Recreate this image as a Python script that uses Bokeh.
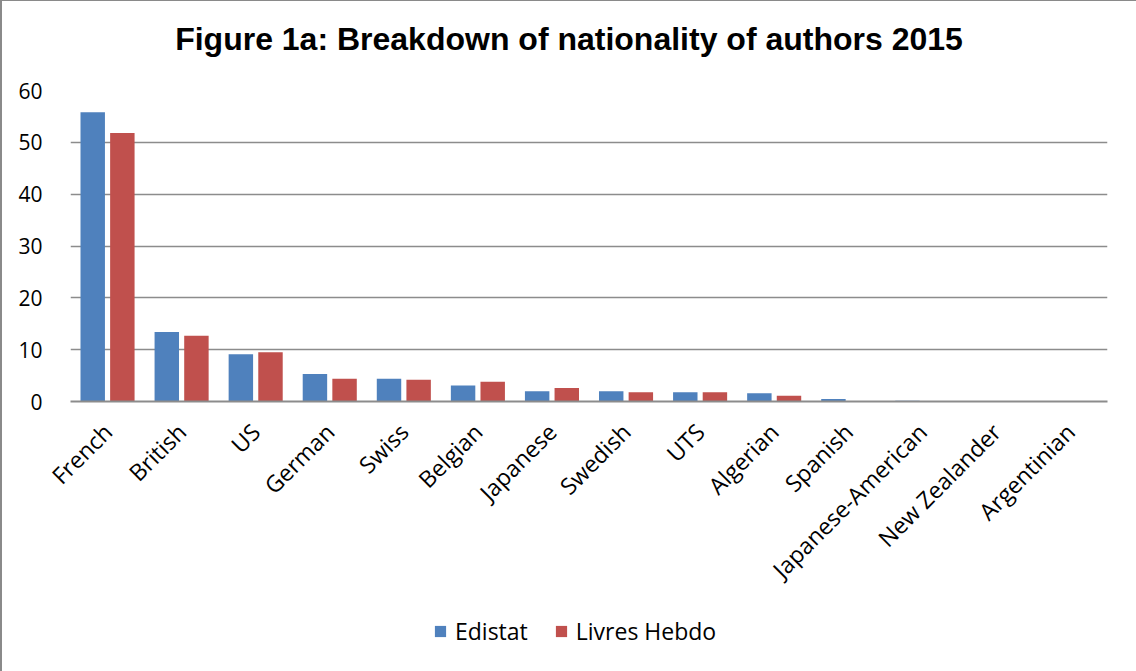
from math import pi

from bokeh.plotting import figure
from bokeh.layouts import column
from bokeh.models import ColumnDataSource, FactorRange, Legend, LegendItem
from bokeh.core.properties import value
from bokeh.transform import dodge
from bokeh.embed import file_html
from bokeh.resources import INLINE

chart_title = "Figure 1a: Breakdown of nationality of authors 2015"
nationalities = ["French", "British", "US", "German", "Swiss", "Belgian", "Japanese",
                 "Swedish", "UTS", "Algerian", "Spanish", "Japanese-American",
                 "New Zealander", "Argentinian"]
edistat = [55.8, 13.4, 9.1, 5.3, 4.4, 3.1, 2.0, 2.0, 1.8, 1.6, 0.5, 0.15, 0.0, 0.0]
livres_hebdo = [51.8, 12.7, 9.5, 4.4, 4.2, 3.8, 2.6, 1.8, 1.8, 1.1, 0.0, 0.0, 0.0, 0.0]
series_names = ["Edistat", "Livres Hebdo"]
y_ticks = [0, 10, 20, 30, 40, 50, 60]

BLUE = "#4F81BD"
RED = "#C0504D"
GRID = "#8C8C8C"
FONT = "Open Sans"
W = 1134


def bare(fig):
    fig.outline_line_color = None
    fig.background_fill_color = "white"
    fig.border_fill_color = "white"
    return fig


# ---- title strip (its frame is aligned with the chart's frame by the column) ----
title_fig = bare(figure(width=W, height=77, x_range=(0, 1), y_range=(0, 77),
                        x_axis_type=None, y_axis_type=None, min_border=0,
                        output_backend="svg", toolbar_location=None))
title_fig.text(x=[0.5], y=[40], text=[chart_title], x_offset=-20, text_align="center",
               text_baseline="alphabetic", text_font=value("Liberation Sans"),
               text_font_size="32px", text_font_style="bold", text_color="black")

# ---- bar chart ----
source = ColumnDataSource(dict(cat=nationalities, ed=edistat, lh=livres_hebdo))

p = bare(figure(
    width=W, height=523,
    x_range=FactorRange(*nationalities, range_padding=0),
    y_range=(0, 60),
    output_backend="svg", toolbar_location=None,
    min_border_left=68, min_border_right=29, min_border_top=12, min_border_bottom=200,
))

p.vbar(x=dodge("cat", -0.2, range=p.x_range), top="ed", width=0.33, source=source,
       fill_color=BLUE, line_color=None)
p.vbar(x=dodge("cat", 0.2, range=p.x_range), top="lh", width=0.33, source=source,
       fill_color=RED, line_color=None)

p.xgrid.grid_line_color = None
p.ygrid.grid_line_color = GRID
p.ygrid.grid_line_width = 1.5
p.yaxis.ticker = y_ticks
p.yaxis.axis_line_color = None
p.yaxis.major_tick_line_color = None
p.yaxis.minor_tick_line_color = None
p.yaxis.major_label_text_font = FONT
p.yaxis.major_label_text_font_size = "21px"
p.yaxis.major_label_text_color = "black"
p.yaxis.major_label_standoff = 22

p.xaxis.axis_line_color = GRID
p.xaxis.axis_line_width = 2
p.xaxis.major_tick_line_color = None
p.xaxis.minor_tick_line_color = None
p.xaxis.major_label_orientation = pi / 4
p.xaxis.major_label_text_font = FONT
p.xaxis.major_label_text_font_size = "23px"
p.xaxis.major_label_text_color = "black"
p.xaxis.major_label_standoff = 20

# ---- legend strip ----
legend_fig = bare(figure(width=W, height=70, x_range=(0, 1), y_range=(0, 1),
                         x_axis_type=None, y_axis_type=None, min_border=0,
                         output_backend="svg", toolbar_location=None))
# zero-height swatch renderers that only supply the legend colours
sw_ed = legend_fig.vbar(x=[-1], top=[0], width=0.1, fill_color=BLUE, line_color=None)
sw_lh = legend_fig.vbar(x=[-1], top=[0], width=0.1, fill_color=RED, line_color=None)
legend = Legend(items=[LegendItem(label=series_names[0], renderers=[sw_ed]),
                       LegendItem(label=series_names[1], renderers=[sw_lh])],
                orientation="horizontal", location=(363, 24),
                label_text_font=FONT, label_text_font_size="23px", label_text_color="black",
                glyph_width=14, glyph_height=14, spacing=26, label_standoff=8,
                margin=0, padding=0,
                border_line_color=None, background_fill_alpha=0)
legend_fig.add_layout(legend, "center")

layout = column(title_fig, p, legend_fig, spacing=0)
layout.styles = {"border-left": "2px solid #8a8a8a", "border-top": "1px solid #8a8a8a"}

open("out.html", "w").write(file_html(layout, INLINE))
